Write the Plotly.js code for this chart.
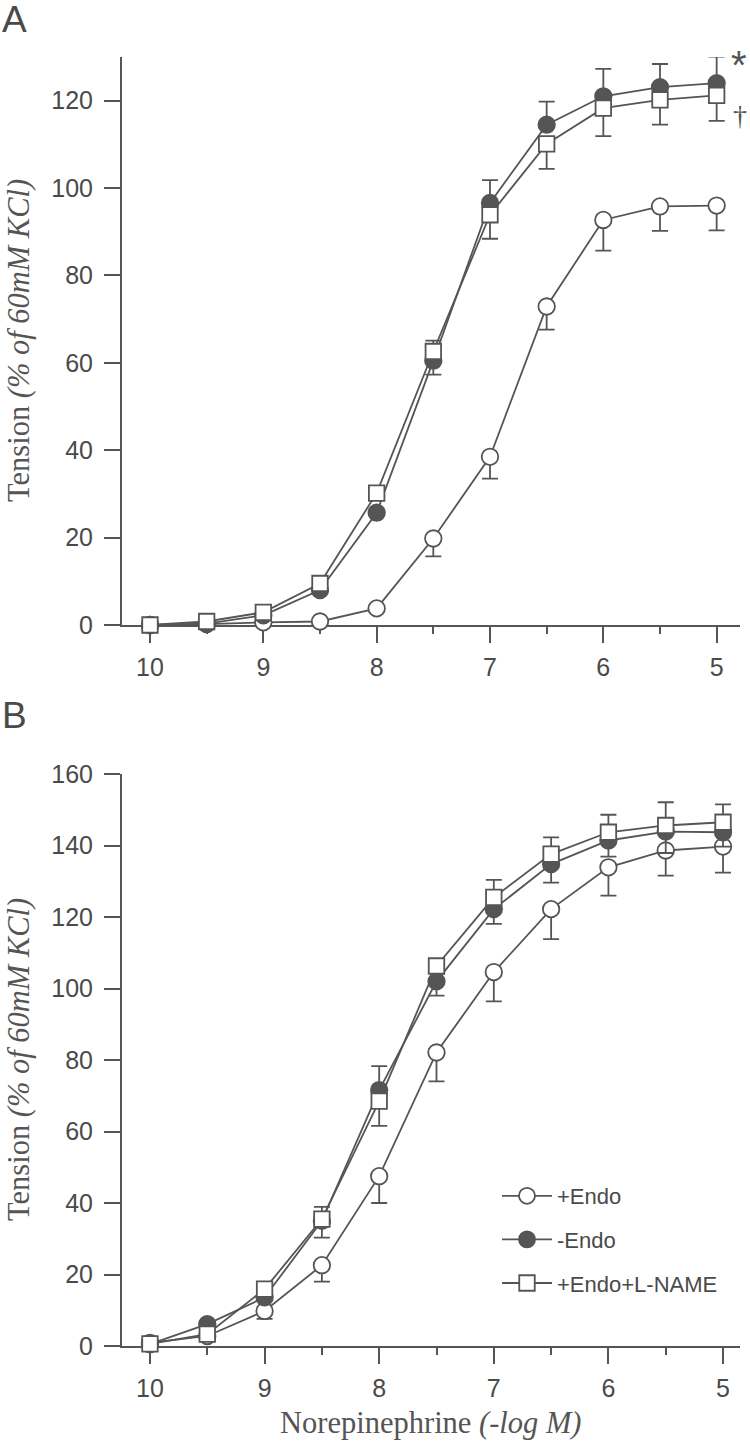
<!DOCTYPE html>
<html>
<head>
<meta charset="utf-8">
<script src="https://cdn.plot.ly/plotly-3.0.1.min.js"></script>
<style>
html,body{margin:0;padding:0;background:#fff;}
#chart{width:750px;height:1447px;}
</style>
</head>
<body>
<div id="chart"></div>
<script>
// ---- data ----
const doses = [10, 9.5, 9, 8.5, 8, 7.5, 7, 6.5, 6, 5.5, 5];
const xTickVals = [10, 9, 8, 7, 6, 5];
const seriesNames = ['+Endo', '-Endo', '+Endo+L-NAME'];

// Panel A
const aEndo        = [0, 0.2, 0.6, 0.8, 3.8, 19.8, 38.5, 72.9, 92.7, 95.8, 96.0];
const aEndoErrDn   = [0, 0, 0, 0, 0, 4.1, 5.0, 5.3, 7.0, 5.6, 5.7];
const aNoEndo      = [0, 0.3, 2.2, 8.0, 25.7, 60.5, 96.6, 114.5, 121.0, 123.1, 124.0];
const aNoEndoErrUp = [0, 0, 0, 0, 0, 4.6, 5.2, 5.3, 6.3, 5.3, 6.1];
const aLname       = [0, 0.8, 2.9, 9.5, 30.2, 62.6, 93.9, 110.1, 118.3, 120.2, 121.2];
const aLnameErrDn  = [0, 0, 0, 0, 0, 5.3, 5.5, 5.7, 6.4, 5.7, 5.8];

// Panel B
const bEndo        = [0.9, 2.8, 9.8, 22.6, 47.5, 82.1, 104.6, 122.2, 133.9, 138.6, 139.7];
const bEndoErrDn   = [0, 0, 2.2, 4.6, 7.5, 8.1, 8.2, 8.4, 7.9, 7.0, 7.3];
const bNoEndo      = [0.5, 6.1, 13.6, 35.0, 71.6, 102.0, 122.2, 134.8, 141.4, 143.9, 143.7];
const bNoEndoErrDn = [0, 0, 0, 4.7, 10.0, 4.0, 4.1, 5.2, 4.5, 6.0, 4.0];
const bLname       = [0.6, 3.3, 15.9, 35.5, 68.5, 106.3, 125.5, 137.6, 143.7, 145.6, 146.5];
const bLnameErrUp  = [0, 0, 0, 3.4, 9.8, 2.0, 4.9, 4.7, 4.9, 6.5, 5.0];

// ---- styling ----
const INK = '#555555';
const TXT = '#4a4a4a';
const zeros = doses.map(() => 0);

function trace(name, y, up, dn, symbol, fill, xa, ya, showleg) {
  return {
    type: 'scatter', mode: 'lines+markers', name: name,
    x: doses, y: y, xaxis: xa, yaxis: ya,
    showlegend: showleg, legendgroup: name + ya,
    cliponaxis: false,
    line: {color: INK, width: 1.8},
    marker: {symbol: symbol, size: symbol === 'square' ? 15.5 : 16.5, color: fill,
             line: {color: INK, width: 1.8}},
    error_y: {type: 'data', symmetric: false, array: up, arrayminus: dn,
              color: INK, thickness: 1.8, width: 8}
  };
}

const data = [
  trace(seriesNames[0], aEndo, zeros, aEndoErrDn, 'circle', '#ffffff', 'x', 'y', false),
  trace(seriesNames[1], aNoEndo, aNoEndoErrUp, zeros, 'circle', INK, 'x', 'y', false),
  trace(seriesNames[2], aLname, zeros, aLnameErrDn, 'square', '#ffffff', 'x', 'y', false),
  trace(seriesNames[0], bEndo, zeros, bEndoErrDn, 'circle', '#ffffff', 'x2', 'y2', true),
  trace(seriesNames[1], bNoEndo, zeros, bNoEndoErrDn, 'circle', INK, 'x2', 'y2', true),
  trace(seriesNames[2], bLname, bLnameErrUp, zeros, 'square', '#ffffff', 'x2', 'y2', true)
];

const W = 750, H = 1447;
const px = v => v / W;
const py = v => (H - v) / H;

function xaxis(range, anchor) {
  return {
    domain: [px(122), px(740)], range: range, anchor: anchor,
    showline: true, linecolor: INK, linewidth: 2, layer: 'below traces',
    ticks: 'outside', ticklen: 16, tickwidth: 2, tickcolor: INK,
    tickmode: 'array', tickvals: xTickVals, ticktext: xTickVals.map(String),
    ticklabelstandoff: 3,
    minor: {tickmode: 'linear', tick0: 10, dtick: 0.5, ticks: 'outside', ticklen: 7, tickwidth: 2, tickcolor: INK, showgrid: false},
    showgrid: false, zeroline: false, fixedrange: true,
    tickfont: {family: 'Liberation Sans, Arial, sans-serif', size: 25, color: TXT}
  };
}
function yaxis(dom, range, anchor) {
  return {
    domain: dom, range: range, anchor: anchor,
    showline: true, linecolor: INK, linewidth: 2, layer: 'below traces',
    ticks: 'outside', ticklen: 16, tickwidth: 2, tickcolor: INK,
    tickmode: 'linear', tick0: 0, dtick: 20, ticklabelstandoff: 6,
    showgrid: false, zeroline: false, fixedrange: true,
    tickfont: {family: 'Liberation Sans, Arial, sans-serif', size: 25, color: TXT}
  };
}

const yTitle = 'Tension <i>(% of 60mM KCl)</i>';
const serif = {family: 'Liberation Serif, Times New Roman, serif', size: 30.5, color: INK};

const layout = {
  width: W, height: H,
  margin: {l: 0, r: 0, t: 0, b: 0},
  paper_bgcolor: '#ffffff', plot_bgcolor: '#ffffff',
  showlegend: true,
  xaxis: xaxis([10.247, 4.794], 'y'),
  yaxis: yaxis([py(625), py(57)], [0, 130], 'x'),
  xaxis2: xaxis([10.244, 4.852], 'y2'),
  yaxis2: yaxis([py(1346), py(774)], [0, 160], 'x2'),
  legend: {
    x: px(497), y: py(1175), xanchor: 'left', yanchor: 'top',
    bgcolor: 'rgba(0,0,0,0)', borderwidth: 0,
    itemwidth: 50, tracegroupgap: 12, traceorder: 'grouped',
    font: {family: 'Liberation Sans, Arial, sans-serif', size: 22, color: TXT}
  },
  annotations: [
    {text: 'A', xref: 'paper', yref: 'paper', x: px(0), y: py(-3), xanchor: 'left', yanchor: 'top',
     showarrow: false, font: {family: 'Liberation Sans, Arial, sans-serif', size: 37, color: TXT}},
    {text: 'B', xref: 'paper', yref: 'paper', x: px(0), y: py(693), xanchor: 'left', yanchor: 'top',
     showarrow: false, font: {family: 'Liberation Sans, Arial, sans-serif', size: 37, color: TXT}},
    {text: yTitle, xref: 'paper', yref: 'paper', x: px(19), y: py(341), xanchor: 'center', yanchor: 'middle',
     textangle: -90, showarrow: false, font: serif},
    {text: yTitle, xref: 'paper', yref: 'paper', x: px(19), y: py(1060), xanchor: 'center', yanchor: 'middle',
     textangle: -90, showarrow: false, font: serif},
    {text: 'Norepinephrine <i>(-log M)</i>', xref: 'paper', yref: 'paper', x: px(431), y: py(1423),
     xanchor: 'center', yanchor: 'middle', showarrow: false, font: serif},
    {text: '*', xref: 'x', yref: 'y', x: 5, y: 128, xshift: 22, yshift: 1, xanchor: 'center', yanchor: 'middle',
     showarrow: false, borderpad: 0, font: {family: 'Liberation Sans, Arial, sans-serif', size: 40, color: INK}},
    {text: '†', xref: 'x', yref: 'y', x: 5, y: 116.5, xshift: 23, xanchor: 'center', yanchor: 'middle',
     showarrow: false, borderpad: 0, font: {family: 'Liberation Serif, Times New Roman, serif', size: 28, color: INK}}
  ]
};

Plotly.newPlot('chart', data, layout, {displayModeBar: false, staticPlot: true});
</script>
</body>
</html>
